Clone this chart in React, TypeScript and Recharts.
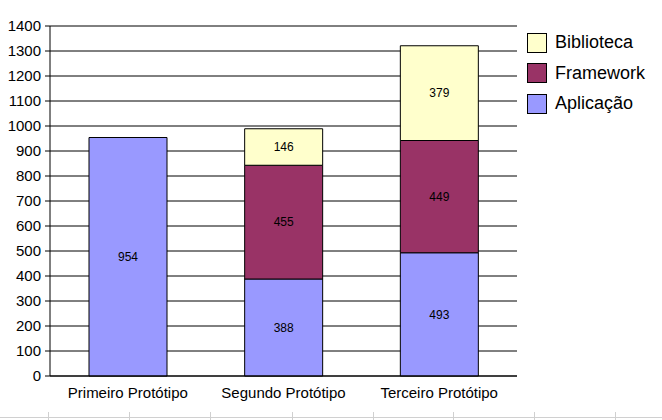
import React from "react";
import {
  BarChart,
  Bar,
  XAxis,
  YAxis,
  CartesianGrid,
  LabelList,
} from "recharts";

const categories = ["Primeiro Protótipo", "Segundo Protótipo", "Terceiro Protótipo"];
const aplicacao = [954, 388, 493];
const framework = [0, 455, 449];
const biblioteca = [0, 146, 379];
const yTicks = [0, 100, 200, 300, 400, 500, 600, 700, 800, 900, 1000, 1100, 1200, 1300, 1400];
const edgeTicks = [0, 1, 2, 3];

const COLORS = {
  aplicacao: "#9999FF",
  framework: "#993366",
  biblioteca: "#FFFFCC",
};

const FONT = "'Liberation Sans', Arial, sans-serif";

const data = categories.map((name, i) => ({
  name,
  aplicacao: aplicacao[i],
  framework: framework[i],
  biblioteca: biblioteca[i],
}));

const legendItems = [
  { label: "Biblioteca", color: COLORS.biblioteca },
  { label: "Framework", color: COLORS.framework },
  { label: "Aplicação", color: COLORS.aplicacao },
];

const hideZero = (v: any) => (v ? v : "");

export default function App() {
  return (
    <div
      style={{
        position: "absolute",
        left: 0,
        top: 0,
        width: 662,
        height: 420,
        background: "#fff",
        fontFamily: FONT,
      }}
    >
      <BarChart
        width={662}
        height={420}
        data={data}
        margin={{ top: 26, right: 145, left: 0, bottom: 14 }}
        barSize={78}
      >
        <CartesianGrid horizontal vertical={false} stroke="#000" strokeDasharray="" />
        <XAxis
          xAxisId={0}
          type="number"
          domain={[0, 3]}
          ticks={edgeTicks}
          height={0}
          axisLine={false}
          tickLine={{ stroke: "#000" }}
          tickSize={5}
          tickFormatter={() => ""}
          allowDataOverflow
        />
        <XAxis
          xAxisId={1}
          dataKey="name"
          height={30}
          axisLine={{ stroke: "#000" }}
          tickLine={false}
          tick={{ fill: "#000", fontSize: 15, fontFamily: FONT }}
          tickMargin={5}
          interval={0}
        />
        <YAxis
          width={50}
          domain={[0, 1400]}
          ticks={yTicks}
          interval={0}
          axisLine={{ stroke: "#000" }}
          tickLine={{ stroke: "#000" }}
          tickSize={5}
          tick={{ fill: "#000", fontSize: 15, fontFamily: FONT }}
          tickMargin={4}
        />
        <Bar
          xAxisId={1}
          dataKey="aplicacao"
          stackId="a"
          fill={COLORS.aplicacao}
          stroke="#000"
          strokeWidth={1}
          isAnimationActive={false}
        >
          <LabelList dataKey="aplicacao" position="center" fill="#000" fontSize={12} fontFamily={FONT} formatter={hideZero} />
        </Bar>
        <Bar
          xAxisId={1}
          dataKey="framework"
          stackId="a"
          fill={COLORS.framework}
          stroke="#000"
          strokeWidth={1}
          isAnimationActive={false}
        >
          <LabelList dataKey="framework" position="center" fill="#000" fontSize={12} fontFamily={FONT} formatter={hideZero} />
        </Bar>
        <Bar
          xAxisId={1}
          dataKey="biblioteca"
          stackId="a"
          fill={COLORS.biblioteca}
          stroke="#000"
          strokeWidth={1}
          isAnimationActive={false}
        >
          <LabelList dataKey="biblioteca" position="center" fill="#000" fontSize={12} fontFamily={FONT} formatter={hideZero} />
        </Bar>
      </BarChart>

      {/* legend */}
      <div style={{ position: "absolute", left: 527, top: 33 }}>
        {legendItems.map((item) => (
          <div key={item.label} style={{ display: "flex", alignItems: "center", height: 30.5 }}>
            <div
              style={{
                width: 18,
                height: 18,
                background: item.color,
                border: "1px solid #000",
                marginTop: -11,
              }}
            />
            <span style={{ fontSize: 18, marginLeft: 8, marginTop: -11, color: "#000" }}>{item.label}</span>
          </div>
        ))}
      </div>

      {/* spreadsheet cell borders at the bottom */}
      <div style={{ position: "absolute", left: 0, top: 417, width: 662, height: 1, background: "#d0d0d0" }} />
      {[48, 129, 210, 292, 373, 453, 534, 615].map((x) => (
        <div key={x} style={{ position: "absolute", left: x, top: 412, width: 1, height: 8, background: "#d0d0d0" }} />
      ))}
    </div>
  );
}
